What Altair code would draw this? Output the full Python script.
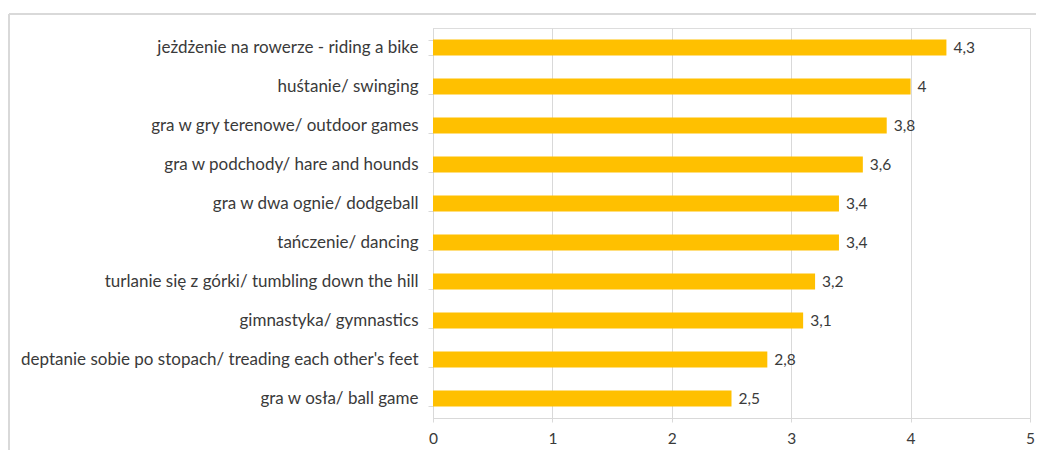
import altair as alt
import pandas as pd

categories = [
    "jeżdżenie na rowerze - riding a bike",
    "huśtanie/ swinging",
    "gra w gry terenowe/ outdoor games",
    "gra w podchody/ hare and hounds",
    "gra w dwa ognie/ dodgeball",
    "tańczenie/ dancing",
    "turlanie się z górki/ tumbling down the hill",
    "gimnastyka/ gymnastics",
    "deptanie sobie po stopach/ treading each other's feet",
    "gra w osła/ ball game",
]
values = [4.3, 4.0, 3.8, 3.6, 3.4, 3.4, 3.2, 3.1, 2.8, 2.5]
value_labels = ["4,3", "4", "3,8", "3,6", "3,4", "3,4", "3,2", "3,1", "2,8", "2,5"]

df = pd.DataFrame({"activity": categories, "value": values, "label": value_labels})

FONT = "Lato"
FS = 17
FS_SMALL = 15.5
TXT = "#3a3a3a"
GRID = "#d9d9d9"

y_enc = alt.Y(
    "activity:N",
    sort=categories,
    title=None,
    scale=alt.Scale(paddingInner=0.59, paddingOuter=0.295),
    axis=alt.Axis(
        tickBand="extent",
        domainColor=GRID,
        tickColor=GRID,
        tickSize=5,
        labelPadding=10,
        labelFont=FONT,
        labelFontSize=FS,
        labelColor=TXT,
        labelLimit=500,
        grid=False,
    ),
)
x_enc = alt.X(
    "value:Q",
    title=None,
    scale=alt.Scale(domain=[0, 5], nice=False),
    axis=alt.Axis(
        values=[0, 1, 2, 3, 4, 5],
        format="d",
        grid=True,
        gridColor=GRID,
        domainColor=GRID,
        tickColor=GRID,
        tickSize=4,
        labelPadding=9,
        labelFont=FONT,
        labelFontSize=FS_SMALL,
        labelColor=TXT,
        labelFlush=False,
    ),
)

bars = alt.Chart(df).mark_bar(color="#FFC000").encode(x=x_enc, y=y_enc)
texts = alt.Chart(df).mark_text(
    align="left", baseline="middle", dx=7, font=FONT, fontSize=FS_SMALL, color=TXT
).encode(x="value:Q", y=alt.Y("activity:N", sort=categories), text="label:N")

frame_top = alt.Chart(df).mark_rule(color=GRID, strokeWidth=2).encode(
    x=alt.value(-424), x2=alt.value(620), y=alt.value(-14)
)
frame_left = alt.Chart(df).mark_rule(color=GRID, strokeWidth=2).encode(
    x=alt.value(-424), y=alt.value(-14), y2=alt.value(432)
)

chart = (
    alt.layer(frame_top, frame_left, bars, texts)
    .properties(
        width=597,
        height=390,
        autosize=alt.AutoSizeParams(type="none"),
        padding={"left": 425, "top": 20, "right": 6, "bottom": 32},
    )
    .configure_view(stroke=None)
    .configure(background="white")
)

chart.save("out.html", embed_options={"renderer": "svg", "actions": False})
